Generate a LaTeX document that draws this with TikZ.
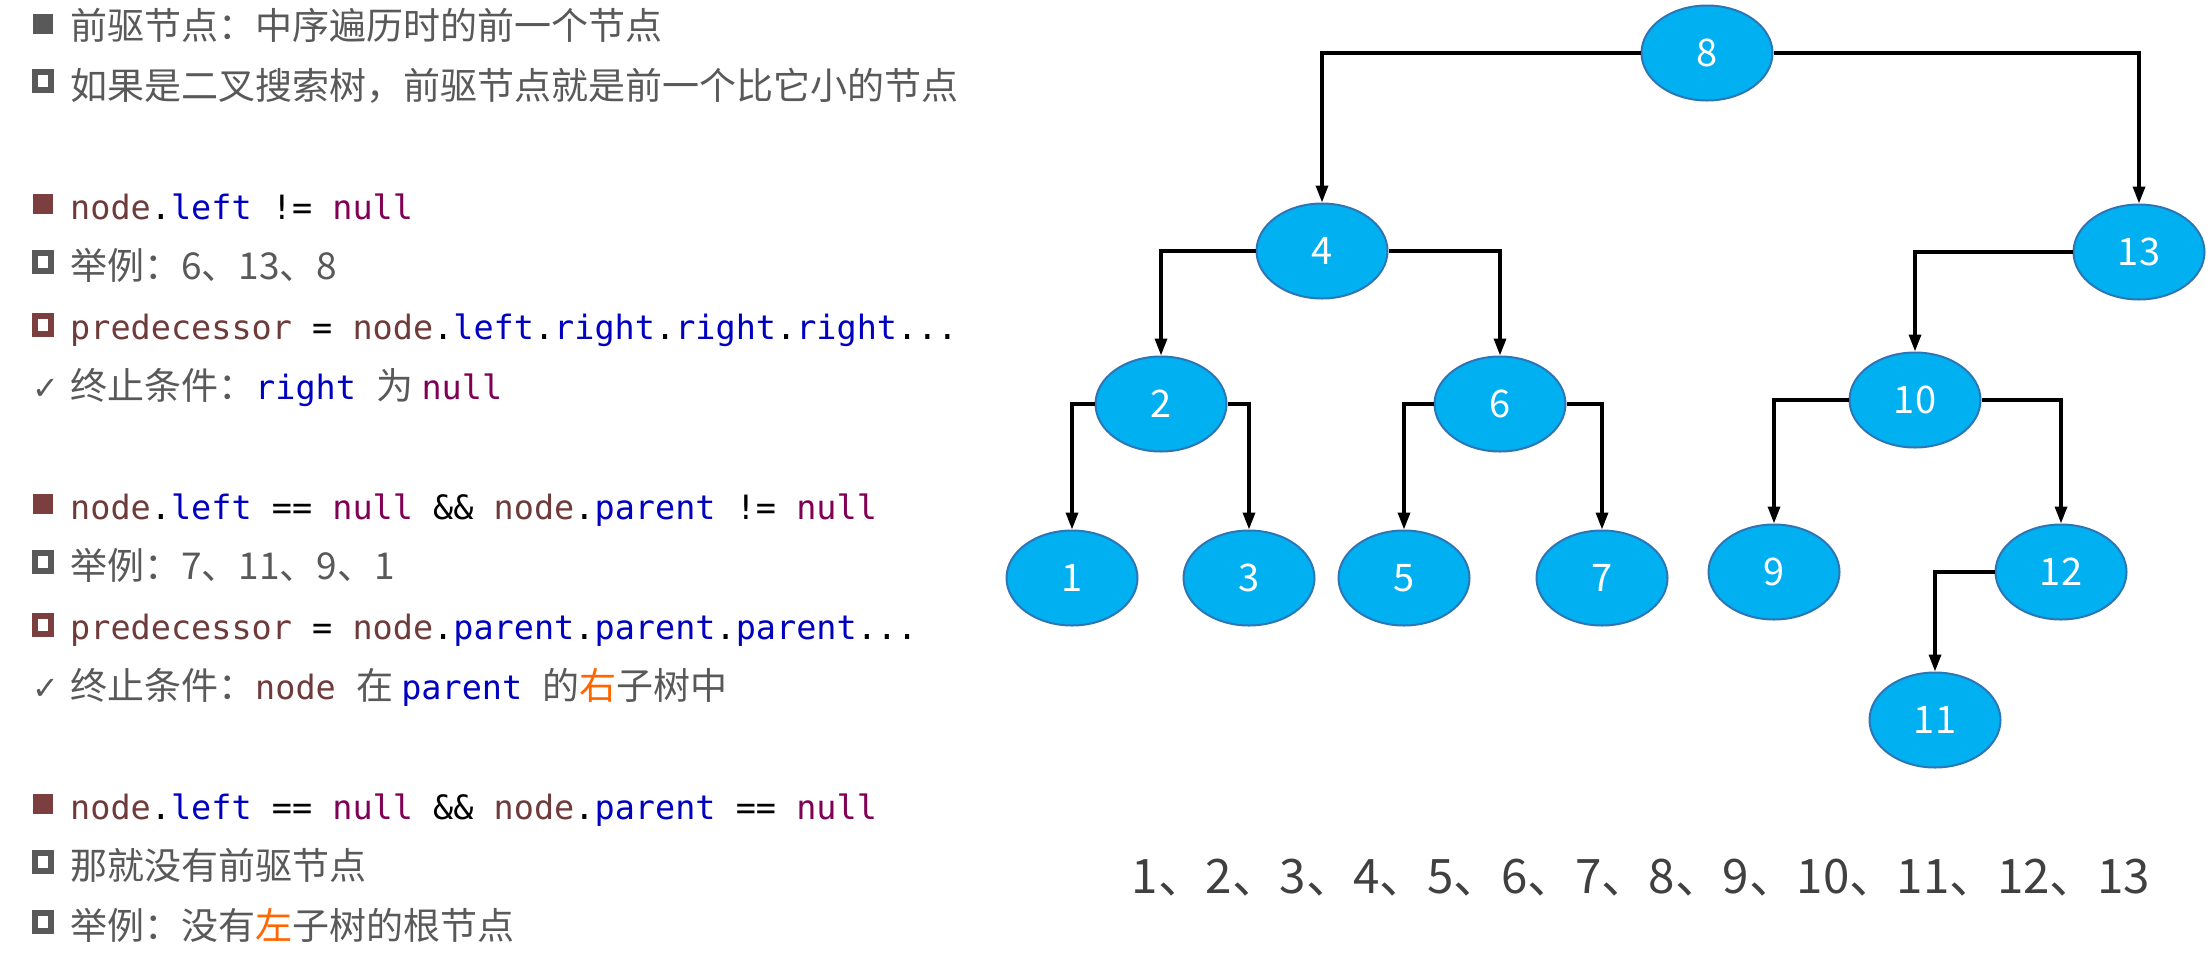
\documentclass[tikz,border=0pt]{standalone}
\usepackage{fontspec}
\setmainfont{Noto Sans CJK SC}
\newfontfamily\codefont{DejaVu Sans Mono}
\newfontfamily\symfont{DejaVu Sans}
\usetikzlibrary{arrows.meta,shapes.geometric}
\definecolor{txtgray}{HTML}{595959}
\definecolor{seqgray}{HTML}{404040}
\definecolor{cbrown}{HTML}{6F3A3A}
\definecolor{bulbrown}{HTML}{7B3F3F}
\definecolor{cblue}{HTML}{0000C0}
\definecolor{cnull}{HTML}{7F0055}
\definecolor{corange}{HTML}{FF6600}
\definecolor{nodefill}{HTML}{00B0F0}
\definecolor{nodeline}{HTML}{2E75B6}
\newcommand\cbr[1]{\textcolor{cbrown}{#1}}
\newcommand\cbl[1]{\textcolor{cblue}{#1}}
\newcommand\cnl[1]{\textcolor{cnull}{#1}}
\newcommand\cbk[1]{\textcolor{black}{#1}}
\newcommand\cor[1]{\textcolor{corange}{#1}}
\newcommand\cf{\fontsize{33.5pt}{40pt}\codefont}
\tikzset{
  tnode/.style={ellipse, draw=nodeline, line width=2pt, fill=nodefill,
    minimum width=131pt, minimum height=95pt, inner sep=0pt, text=white,
    font=\fontsize{38pt}{44pt}\selectfont},
  edge/.style={line width=3.3pt, -{Triangle[length=17pt,width=12pt]}},
  txt/.style={anchor=base west, inner sep=0pt, text=txtgray,
    font=\fontsize{37pt}{44pt}\selectfont},
  code/.style={anchor=base west, inner sep=0pt, text=cbrown, font=\cf},
  fbul/.style={rectangle, fill=#1, minimum width=20pt, minimum height=20pt, inner sep=0pt},
  hbul/.style={rectangle, draw=#1, line width=6pt, minimum width=16pt, minimum height=18pt, inner sep=0pt},
  chk/.style={anchor=base west, inner sep=0pt, text=txtgray, font=\fontsize{32pt}{36pt}\symfont}
}
\begin{document}
\begin{tikzpicture}[x=1pt,y=-1pt]
\useasboundingbox[fill=white] (0,0) rectangle (2212,954);
% left text
\node[fbul=txtgray] (b1) at (43,24) {};
\node[txt] (t1) at (70,39) {前驱节点：中序遍历时的前一个节点};
\node[hbul=txtgray] (b2) at (43,81) {};
\node[txt] (t2) at (70,99) {如果是二叉搜索树，前驱节点就是前一个比它小的节点};
\node[fbul=bulbrown] (b3) at (43,204) {};
\node[code] (t3) at (70,219) {node\cbk{.}\cbl{left}\cbk{\ !=\ }\cnl{null}};
\node[hbul=txtgray] (b4) at (43,262) {};
\node[txt] (t4) at (70,279) {举例：6、13、8};
\node[hbul=bulbrown] (b5) at (43,325) {};
\node[code] (t5) at (70,339) {predecessor\cbk{\ =\ }node\cbk{.}\cbl{left}\cbk{.}\cbl{right}\cbk{.}\cbl{right}\cbk{.}\cbl{right}\cbk{...}};
\node[chk] (c6) at (32,399) {✓};
\node[txt] (t6) at (70,399) {终止条件：{\cf\cbl{right}\ }为 {\cf\cnl{null}}};
\node[fbul=bulbrown] (b7) at (43,504) {};
\node[code] (t7) at (70,519) {node\cbk{.}\cbl{left}\cbk{\ ==\ }\cnl{null}\cbk{\ \&\&\ }node\cbk{.}\cbl{parent}\cbk{\ !=\ }\cnl{null}};
\node[hbul=txtgray] (b8) at (43,562) {};
\node[txt] (t8) at (70,579) {举例：7、11、9、1};
\node[hbul=bulbrown] (b9) at (43,625) {};
\node[code] (t9) at (70,639) {predecessor\cbk{\ =\ }node\cbk{.}\cbl{parent}\cbk{.}\cbl{parent}\cbk{.}\cbl{parent}\cbk{...}};
\node[chk] (c10) at (32,699) {✓};
\node[txt] (t10) at (70,699) {终止条件：{\cf\cbr{node}\ }在 {\cf\cbl{parent}\ }的\cor{右}子树中};
\node[fbul=bulbrown] (b11) at (43,804) {};
\node[code] (t11) at (70,819) {node\cbk{.}\cbl{left}\cbk{\ ==\ }\cnl{null}\cbk{\ \&\&\ }node\cbk{.}\cbl{parent}\cbk{\ ==\ }\cnl{null}};
\node[hbul=txtgray] (b12) at (43,862) {};
\node[txt] (t12) at (70,879) {那就没有前驱节点};
\node[hbul=txtgray] (b13) at (43,922) {};
\node[txt] (t13) at (70,939) {举例：没有\cor{左}子树的根节点};
% tree
\node[tnode] (n8) at (1707,53) {8};
\node[tnode] (n4) at (1322,251) {4};
\node[tnode] (n13) at (2139,252) {13};
\node[tnode] (n2) at (1161,404) {2};
\node[tnode] (n6) at (1500,404) {6};
\node[tnode] (n10) at (1915,400) {10};
\node[tnode] (n1) at (1072,578) {1};
\node[tnode] (n3) at (1249,578) {3};
\node[tnode] (n5) at (1404,578) {5};
\node[tnode] (n7) at (1602,578) {7};
\node[tnode] (n9) at (1774,572) {9};
\node[tnode] (n12) at (2061,572) {12};
\node[tnode] (n11) at (1935,720) {11};
\draw[edge] (n8.west) -| (n4.north);
\draw[edge] (n8.east) -| (n13.north);
\draw[edge] (n4.west) -| (n2.north);
\draw[edge] (n4.east) -| (n6.north);
\draw[edge] (n13.west) -| (n10.north);
\draw[edge] (n2.west) -| (n1.north);
\draw[edge] (n2.east) -| (n3.north);
\draw[edge] (n6.west) -| (n5.north);
\draw[edge] (n6.east) -| (n7.north);
\draw[edge] (n10.west) -| (n9.north);
\draw[edge] (n10.east) -| (n12.north);
\draw[edge] (n12.west) -| (n11.north);
\node[anchor=base, inner sep=0pt, text=seqgray, font=\fontsize{47.5pt}{56pt}\selectfont] (seq) at (1641,893) {1、2、3、4、5、6、7、8、9、10、11、12、13};
\end{tikzpicture}
\end{document}
